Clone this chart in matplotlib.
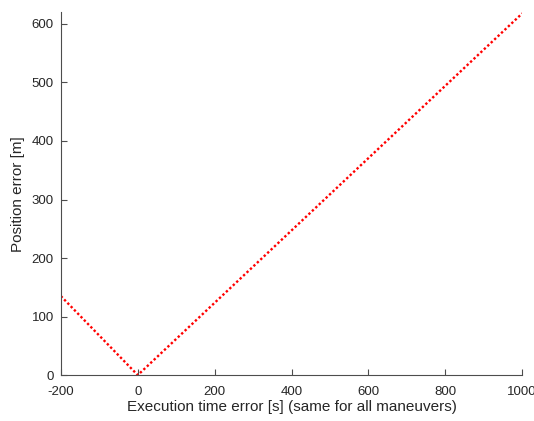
import matplotlib
matplotlib.use("Agg")
import matplotlib.pyplot as plt

# breakpoints of the curve
time_err = [-200, 0, 1000]
pos_err = [135, 0, 618]

xticks = [-200, 0, 200, 400, 600, 800, 1000]
yticks = [0, 100, 200, 300, 400, 500, 600]

plt.rcParams['font.family'] = ['Liberation Sans', 'DejaVu Sans']
plt.rcParams['axes.unicode_minus'] = False
fig = plt.figure(figsize=(5.34, 4.21), dpi=100)
ax = fig.add_axes([0.114, 0.109, 0.864, 0.862])
ax.plot(time_err, pos_err, color='#ff0000', linestyle=(0, (1, 1)), linewidth=1.7)
ax.set_xlim(-200, 1000)
ax.set_ylim(0, 620)
ax.set_xticks(xticks)
ax.set_yticks(yticks)
for s in ['top', 'right']:
    ax.spines[s].set_visible(False)
for s in ['left', 'bottom']:
    ax.spines[s].set_color('#4d4d4d')
    ax.spines[s].set_linewidth(0.8)
ax.tick_params(direction='in', length=4, width=0.8, colors='#4d4d4d', labelsize=9.5, labelcolor='#262626')
ax.tick_params(axis='x', pad=8)
ax.tick_params(axis='y', pad=5)
ax.set_xlabel('Execution time error [s] (same for all maneuvers)', fontsize=11, color='#262626', labelpad=1)
ax.set_ylabel('Position error [m]', fontsize=11, color='#262626', labelpad=5)
fig.savefig('out.png', dpi=100)
